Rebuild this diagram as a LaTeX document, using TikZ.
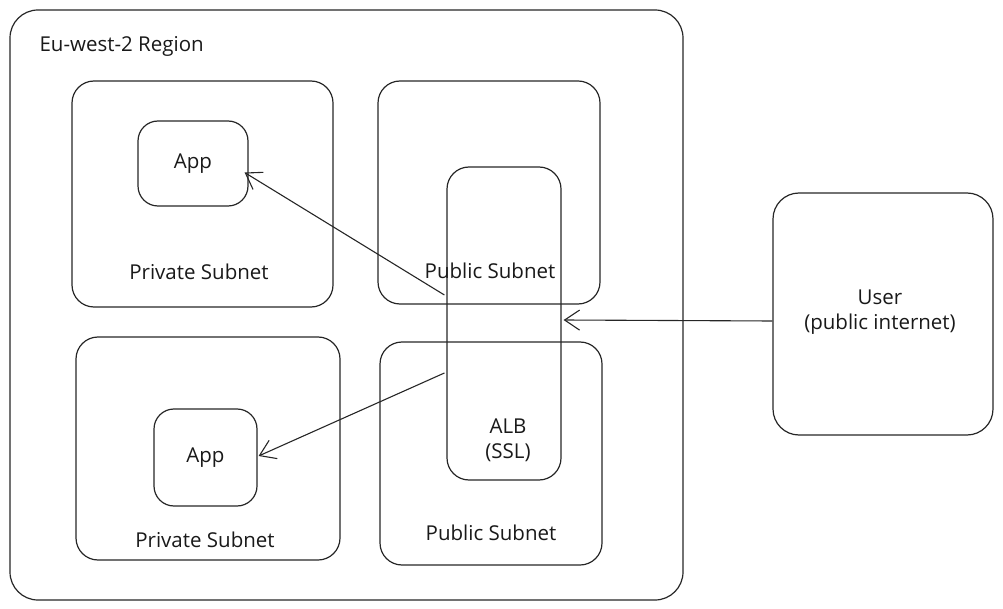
\documentclass[tikz,border=0pt]{standalone}
\usepackage{fontspec}
\setmainfont{Open Sans}
\usetikzlibrary{arrows.meta}
\begin{document}
\begin{tikzpicture}[x=1pt,y=-1pt,
  box/.style={draw=black!85, line width=1.2pt, rounded corners=#1, inner sep=0pt, fill=none},
  box/.default=22pt,
  lbl/.style={font=\fontsize{20.5}{25}\selectfont, align=center, text=black!90},
  arr/.style={draw=black!85, line width=1.1pt, -{Straight Barb[length=15pt,width=20pt,line width=1.1pt]}}]
\useasboundingbox (0,0) rectangle (1003,609);
% region
\node[box=28pt, minimum width=673pt, minimum height=590pt] (region) at (346.5,305) {};
\node[lbl, anchor=west] (regionlbl) at (36,46) {Eu-west-2 Region};
% subnets
\node[box, minimum width=261pt, minimum height=226pt] (priv1) at (202.5,194) {};
\node[box, minimum width=222pt, minimum height=223pt] (pub1) at (489,192.5) {};
\node[box, minimum width=264pt, minimum height=223pt] (priv2) at (208,448.5) {};
\node[box, minimum width=222pt, minimum height=223pt] (pub2) at (491,453.5) {};
% ALB
\node[box=22pt, minimum width=114pt, minimum height=313pt] (alb) at (504,323.5) {};
% apps
\node[box=20pt, minimum width=110pt, minimum height=85pt] (app1) at (193,163.5) {};
\node[box=20pt, minimum width=103pt, minimum height=97pt] (app2) at (205.5,457.5) {};
% user
\node[box=26pt, minimum width=220pt, minimum height=242pt] (user) at (883,314) {};
% labels
\node[lbl] (app1lbl) at (app1) {App};
\node[lbl] (app2lbl) at (app2) {App};
\node[lbl] (priv1lbl) at (199,272) {Private Subnet};
\node[lbl] (pub1lbl) at (490,271) {Public Subnet};
\node[lbl] (priv2lbl) at (205,540) {Private Subnet};
\node[lbl] (pub2lbl) at (491,533) {Public Subnet};
\node[lbl] (alblbl) at (508,440) {ALB\\(SSL)};
\node[lbl] (userlbl) at (880,312) {User\\(public internet)};
% arrows
\draw[arr] ([yshift=-7pt]user.west) -- ([xshift=2pt,yshift=3.5pt]alb.east);
\draw[arr] ([xshift=-2pt,yshift=28.5pt]alb.west) -- ([xshift=-4pt,yshift=-9pt]app1.east);
\draw[arr] ([xshift=-2pt,yshift=-49.5pt]alb.west) -- ([xshift=1pt,yshift=1.5pt]app2.east);
\end{tikzpicture}
\end{document}
